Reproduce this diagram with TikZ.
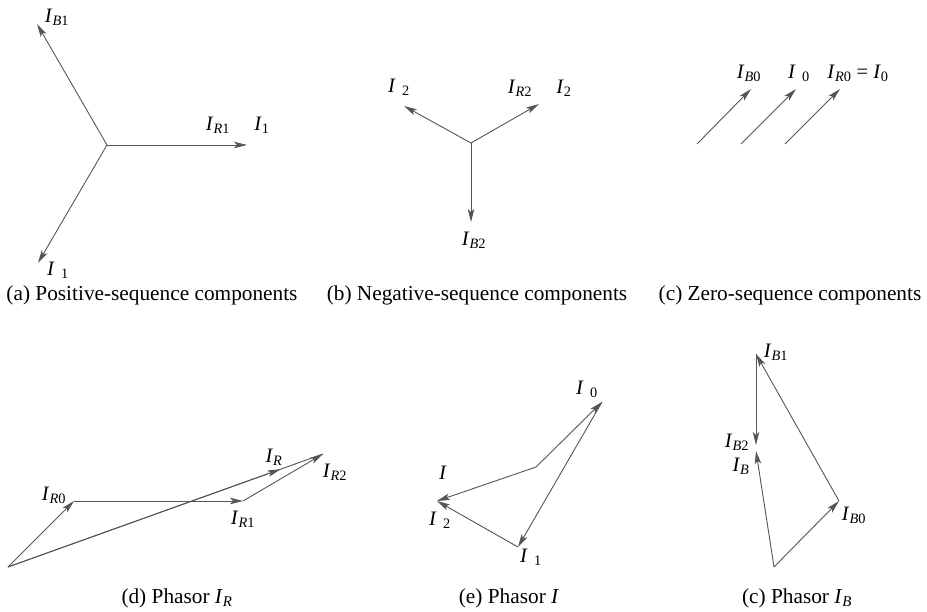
\documentclass[tikz,border=0pt]{standalone}
\usepackage{fontspec}
\setmainfont{Liberation Serif}
\usetikzlibrary{arrows.meta,calc}
\definecolor{lc}{HTML}{555555}
\newcommand{\Iv}[1]{\textit{I}\textsubscript{#1}}
\newcommand{\Ig}[1]{\textit{I}\textsubscript{\hspace{0.45em}#1}}
\tikzset{
  vec/.style={draw=lc, line width=0.9pt, -{Stealth[length=13pt,width=6.5pt,inset=3pt,fill=lc]}},
  seg/.style={draw=lc, line width=0.9pt},
  lab/.style={inner sep=0pt, font=\fontsize{20.5}{23}\selectfont},
  captext/.style={inner sep=0pt, font=\fontsize{21.3}{24}\selectfont}
}
\begin{document}
\begin{tikzpicture}[x=1pt,y=-1pt]
\useasboundingbox (0,0) rectangle (927,612);
% (a)
\coordinate (a0) at (107,145);
\coordinate (aR) at (247,145);
\coordinate (aB) at (37,24);
\coordinate (aC) at (38,263);
\draw[vec] (a0) -- (aR);
\draw[vec] (a0) -- (aB);
\draw[vec] (a0) -- (aC);
\node[lab] (laB1) at (57,17) {\Iv{\textit{B}1}};
\node[lab] (laR1) at (218,125) {\Iv{\textit{R}1}};
\node[lab] (la1) at (262,125) {\Iv{1}};
\node[lab] (laC1) at (58,270) {\Ig{1}};
\node[captext] (capa) at (152,295) {(a) Positive-sequence components};
% (b)
\coordinate (b0) at (471,143);
\coordinate (bL) at (404,106);
\coordinate (bR) at (539,104);
\coordinate (bD) at (471,222);
\draw[vec] (b0) -- (bL);
\draw[vec] (b0) -- (bR);
\draw[vec] (b0) -- (bD);
\node[lab] (lbL) at (399,87) {\Ig{2}};
\node[lab] (lbR2) at (520,88) {\Iv{\textit{R}2}};
\node[lab] (lb2) at (564,88) {\Iv{2}};
\node[lab] (lbB2) at (474,240) {\Iv{\textit{B}2}};
\node[captext] (capb) at (477,295) {(b) Negative-sequence components};
% (c)
\coordinate (c1s) at (697,144); \coordinate (c1e) at (751,89);
\coordinate (c2s) at (741,144); \coordinate (c2e) at (796,89);
\coordinate (c3s) at (785,144); \coordinate (c3e) at (840,89);
\draw[vec] (c1s) -- (c1e);
\draw[vec] (c2s) -- (c2e);
\draw[vec] (c3s) -- (c3e);
\node[lab] (lcB0) at (749,73) {\Iv{\textit{B}0}};
\node[lab] (lc0) at (799,73) {\Ig{0}};
\node[lab] (lcR0) at (858,73) {\Iv{\textit{R}0} = \Iv{0}};
\node[captext] (capc) at (790,295) {(c) Zero-sequence components};
% (d)
\coordinate (d0) at (8,567);
\coordinate (dR0) at (74,501);
\coordinate (dR1) at (243,501);
\coordinate (dR2) at (323,454);
\draw[vec] (d0) -- (dR0);
\draw[vec] (dR0) -- (dR1);
\draw[vec] (dR1) -- (dR2);
\draw[seg] (d0) -- (dR2);
\draw[vec] (d0) -- ($(d0)!0.865!(dR2)$);
\node[lab] (ldR0) at (54,495) {\Iv{\textit{R}0}};
\node[lab] (ldR1) at (243,519) {\Iv{\textit{R}1}};
\node[lab] (ldR) at (274,457) {\Iv{\textit{R}}};
\node[lab] (ldR2) at (335,472) {\Iv{\textit{R}2}};
\node[captext] (capd) at (177,598) {(d) Phasor \Iv{\textit{R}}};
% (e)
\coordinate (e0) at (536,467);
\coordinate (e1) at (602,402);
\coordinate (e2) at (518,547);
\coordinate (e3) at (437,501);
\draw[vec] (e0) -- (e1);
\draw[vec] (e1) -- (e2);
\draw[vec] (e2) -- (e3);
\draw[vec] (e0) -- (e3);
\node[lab] (leI) at (443,473) {\textit{I}};
\node[lab] (le2) at (440,520) {\Ig{2}};
\node[lab] (le1) at (531,557) {\Ig{1}};
\node[lab] (le0) at (587,389) {\Ig{0}};
\node[captext] (cape) at (509,598) {(e) Phasor \textit{I}};
% (f)
\coordinate (f0) at (774,567);
\coordinate (f1) at (839,501);
\coordinate (f2) at (756,354);
\coordinate (f3) at (756,445);
\coordinate (f4) at (756,451);
\draw[vec] (f0) -- (f1);
\draw[vec] (f1) -- (f2);
\draw[vec] (f2) -- (f3);
\draw[vec] (f0) -- (f4);
\node[lab] (lfB1) at (776,352) {\Iv{\textit{B}1}};
\node[lab] (lfB2) at (737,442) {\Iv{\textit{B}2}};
\node[lab] (lfB) at (741,466) {\Iv{\textit{B}}};
\node[lab] (lfB0) at (854,515) {\Iv{\textit{B}0}};
\node[captext] (capf) at (797,598) {(c) Phasor \Iv{\textit{B}}};
\end{tikzpicture}
\end{document}
